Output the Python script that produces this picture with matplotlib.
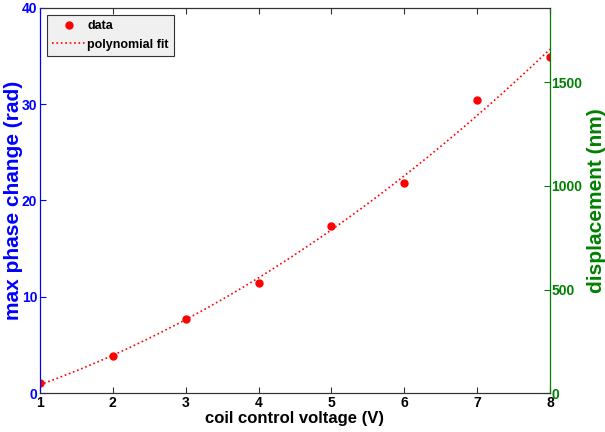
import numpy as np
import matplotlib
matplotlib.use('Agg')
import matplotlib.pyplot as plt

plt.rcParams['font.family'] = ['Liberation Sans', 'DejaVu Sans']
plt.rcParams['font.weight'] = 'bold'

voltage = [1, 2, 3, 4, 5, 6, 7, 8]
phase = [1.0, 3.9, 7.7, 11.4, 17.3, 21.8, 30.4, 34.9]
nm_max = 1860

blue = '#0000ff'
green = '#008000'

fit = np.polyfit(voltage, phase, 2)
xf = np.linspace(1, 8, 200)
yf = np.polyval(fit, xf)

fig = plt.figure(figsize=(6.05, 4.32), dpi=100)
ax = fig.add_axes([0.066, 0.090, 0.843, 0.892])
ax.plot(voltage, phase, 'o', color='red', markersize=5, label='data')
ax.plot(xf, yf, ':', color='red', linewidth=1.2, label='polynomial fit')
ax.set_xlim(1, 8)
ax.set_ylim(0, 40)
ax.set_xticks(voltage)
ax.set_yticks([0, 10, 20, 30, 40])
ax.tick_params(direction='in', length=4, labelsize=10, pad=2, top=True)
ax.tick_params(axis='y', colors=blue)
ax.tick_params(axis='x', colors='#333333', labelcolor='black')
ax.spines['left'].set_color(blue)
ax.spines['top'].set_color('#333333')
ax.spines['bottom'].set_color('#333333')
ax.set_xlabel('coil control voltage (V)', fontsize=12, fontweight='bold', labelpad=1)
ax.set_ylabel('max phase change (rad)', fontsize=15, fontweight='bold', color=blue)
ax.yaxis.set_label_coords(-0.033, 0.5)

ax2 = ax.twinx()
ax2.set_ylim(0, nm_max)
ax2.set_yticks([0, 500, 1000, 1500])
ax2.tick_params(direction='in', length=4, labelsize=10, pad=1, colors=green)
ax2.spines['right'].set_color(green)
ax2.spines['left'].set_color(blue)
ax2.spines['top'].set_color('#333333')
ax2.spines['bottom'].set_color('#333333')
ax2.set_ylabel('displacement (nm)', fontsize=15, fontweight='bold', color=green)
ax2.yaxis.set_label_coords(1.0725, 0.5)

leg = ax.legend(loc='upper left', fontsize=9, frameon=True, fancybox=False,
                edgecolor='#333333', facecolor='#f0f0f0', framealpha=1,
                borderaxespad=0.6, handlelength=2.6, handletextpad=0.2,
                borderpad=0.4)
leg.get_frame().set_linewidth(0.8)

fig.savefig('out.png', dpi=100)
